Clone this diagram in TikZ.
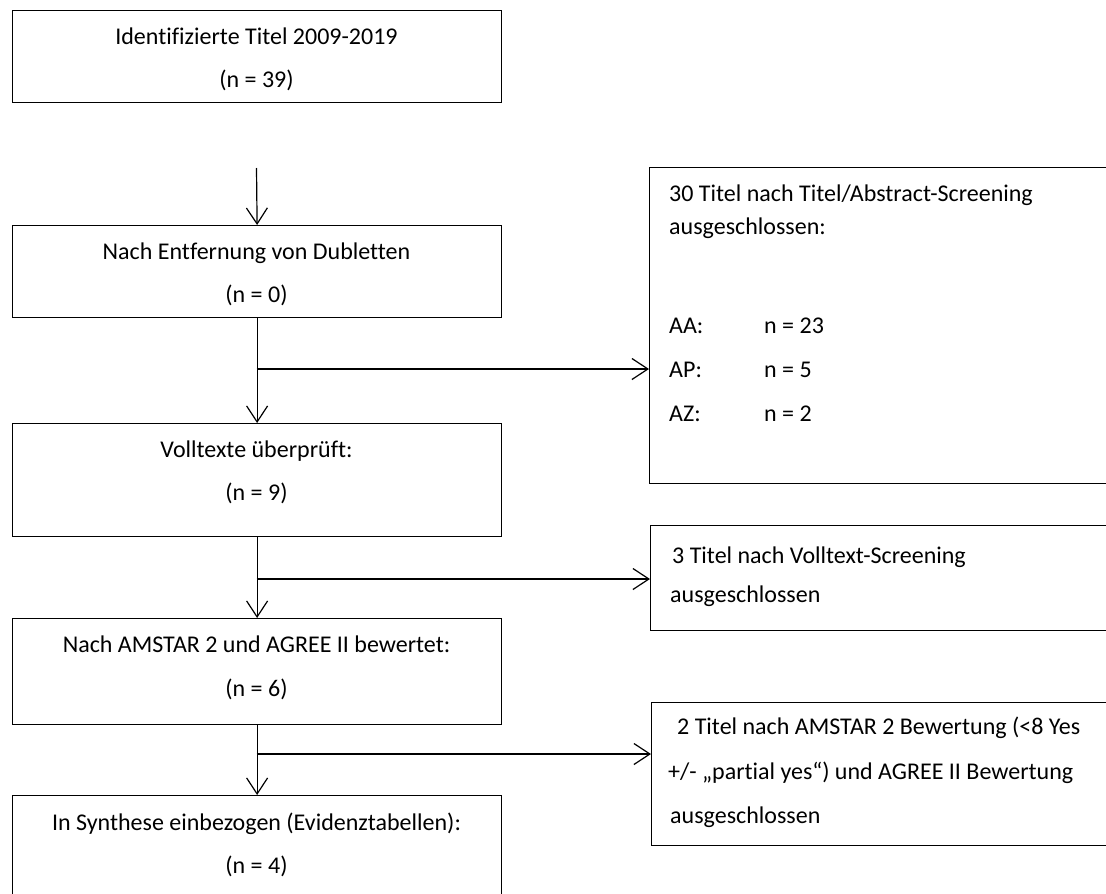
\documentclass[tikz,border=0pt]{standalone}
\usepackage{fontspec}
\setmainfont{Carlito}[Ligatures={NoCommon}]
\usetikzlibrary{arrows.meta}
\tikzset{
  box/.style={draw=black, line width=1.2pt, rectangle, inner sep=0pt, anchor=north west},
  txt/.style={inner sep=0pt, font=\fontsize{24}{28}\selectfont, text=black},
  conn/.style={draw=black, line width=1.2pt},
  arr/.style={conn, -{Straight Barb[length=16pt, width=21pt]}}
}
\begin{document}
\begin{tikzpicture}[x=1pt,y=-1pt]
\useasboundingbox (0,0) rectangle (1106,894);
\clip (0,0) rectangle (1106,894);
\fill[white] (0,0) rectangle (1106,894);
% main boxes
\node[box, minimum width=489pt, minimum height=92pt]  (b1) at (12,10)  {};
\node[box, minimum width=489pt, minimum height=92pt]  (b2) at (12,225) {};
\node[box, minimum width=489pt, minimum height=113pt] (b3) at (12,423) {};
\node[box, minimum width=489pt, minimum height=106pt] (b4) at (12,618) {};
\node[box, minimum width=489pt, minimum height=110pt] (b5) at (12,795) {};
% right boxes
\node[box, minimum width=471pt, minimum height=316pt] (r1) at (649,167) {};
\node[box, minimum width=470pt, minimum height=105pt] (r2) at (650,525) {};
\node[box, minimum width=469pt, minimum height=143pt] (r3) at (651,702) {};
% main texts
\node[txt, anchor=base] (t1a) at (256.5,44)  {Identifizierte Titel 2009-2019};
\node[txt, anchor=base] (t1b) at (256.5,87)  {(n = 39)};
\node[txt, anchor=base] (t2a) at (256.5,259) {Nach Entfernung von Dubletten};
\node[txt, anchor=base] (t2b) at (256.5,302) {(n = 0)};
\node[txt, anchor=base] (t3a) at (256.5,457) {Volltexte überprüft:};
\node[txt, anchor=base] (t3b) at (256.5,500) {(n = 9)};
\node[txt, anchor=base] (t4a) at (256.5,652) {Nach AMSTAR 2 und AGREE II bewertet:};
\node[txt, anchor=base] (t4b) at (256.5,696) {(n = 6)};
\node[txt, anchor=base] (t5a) at (256.5,830) {In Synthese einbezogen (Evidenztabellen):};
\node[txt, anchor=base] (t5b) at (256.5,873) {(n = 4)};
% right texts
\node[txt, anchor=base west] (s1a) at (669,201) {30 Titel nach Titel/Abstract-Screening};
\node[txt, anchor=base west] (s1b) at (669,234) {ausgeschlossen:};
\node[txt, anchor=base west] (s1c) at (669,333) {AA:};
\node[txt, anchor=base west] (s1d) at (764,333) {n = 23};
\node[txt, anchor=base west] (s1e) at (669,377) {AP:};
\node[txt, anchor=base west] (s1f) at (764,377) {n = 5};
\node[txt, anchor=base west] (s1g) at (669,421) {AZ:};
\node[txt, anchor=base west] (s1h) at (764,421) {n = 2};
\node[txt, anchor=base west] (s2a) at (672,563) {3 Titel nach Volltext-Screening};
\node[txt, anchor=base west] (s2b) at (670,602) {ausgeschlossen};
\node[txt, anchor=base west] (s3a) at (677,734) {2 Titel nach AMSTAR 2 Bewertung (<8 Yes};
\node[txt, anchor=base west] (s3b) at (668,779) {+/- „partial yes“) und AGREE II Bewertung};
\node[txt, anchor=base west] (s3c) at (670,823) {ausgeschlossen};
% connectors
\coordinate (c0) at (256.5,168);
\draw[arr] (c0) -- (b2.north);
\draw[arr] (b2.south) -- (b3.north);
\draw[arr] (b3.south) -- (b4.north);
\draw[arr] (b4.south) -- (b5.north);
\coordinate (j1) at (256.5,369);
\coordinate (j2) at (256.5,579);
\coordinate (j3) at (256.5,754);
\draw[arr] (j1) -- (j1 -| r1.west);
\draw[arr] (j2) -- (j2 -| r2.west);
\draw[arr] (j3) -- (j3 -| r3.west);
\end{tikzpicture}
\end{document}
